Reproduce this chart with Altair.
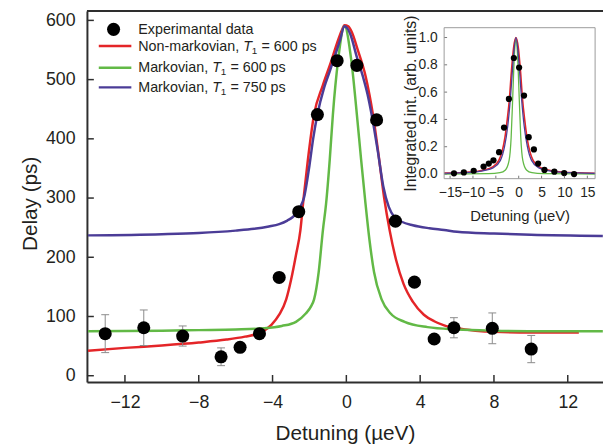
import altair as alt
import pandas as pd

# ---------------- main panel data ----------------
exp_x = [-13.07, -10.98, -8.87, -6.79, -5.76, -4.71, -3.64, -2.58, -1.57, -0.50,
         0.57, 1.64, 2.66, 3.69, 4.76, 5.83, 7.91, 10.02]
exp_y = [71, 81, 67, 32, 48, 71, 166, 277, 441, 532, 524, 432, 261, 158, 62, 81, 80, 45]
exp_err = [32, 30, 17, 15, 0, 0, 0, 0, 0, 0, 0, 0, 0, 0, 0, 17, 26, 23]

red_x = [-14, -12, -10, -8, -6.5, -5.5, -4.71, -4.06, -3.64, -3.26, -2.99, -2.73, -2.49,
         -2.33, -2.09, -1.75, -1.28, -0.8, -0.5, -0.25, -0.1, 0.1, 0.3, 0.6, 1.05, 1.44,
         1.75, 2.05, 2.35, 2.7, 3.1, 3.6, 4.2, 4.76, 5.3, 6, 7, 8, 10, 12.6]
red_y = [42, 47, 51, 56, 61, 66, 72, 86, 103, 129, 163, 204, 246,
         296, 363, 441, 490, 533, 562, 583, 592, 590, 580, 552, 505, 441,
         372, 300, 245, 195, 155, 125, 103, 92, 85, 80, 76, 74, 73, 73]

green_x = [-14, -10, -8, -6, -4.5, -3.5, -2.73, -2.2, -1.9, -1.75, -1.5, -1.27, -1.1, -0.9,
           -0.73, -0.45, -0.1, 0.27, 0.57, 0.8, 1.02, 1.25, 1.5, 1.91, 2.4, 3.16, 4.4,
           6, 8, 11, 13.9]
green_y = [75, 76, 77, 78, 80, 84, 91, 105, 118, 129, 175, 246, 290, 365,
           441, 532, 590, 532, 441, 365, 296, 230, 175, 129, 105, 91, 82,
           78, 76, 75, 75]

purple_x = [-14, -10, -8, -6, -5, -4.2, -3.64, -3.2, -2.9, -2.7, -2.5, -2.3, -2.0, -1.8,
            -1.57, -1.2, -0.9, -0.6, -0.35, -0.1, 0.2, 0.57, 0.9, 1.15, 1.37, 1.7, 2.0,
            2.3, 2.6, 3.0, 3.6, 4.5, 5.3, 6, 8, 10, 13.9]
purple_y = [237, 239, 241, 245, 248, 252, 256, 262, 268, 275, 285, 300, 355, 400,
            441, 487, 514, 542, 566, 590, 578, 538, 505, 475, 441, 380, 320,
            285, 268, 260, 254, 249, 246, 243, 240, 238, 236]

x_ticks = [-12, -8, -4, 0, 4, 8, 12]
y_ticks = [0, 100, 200, 300, 400, 500, 600]

# ---------------- inset data ----------------
in_x = [-14.15, -11.99, -9.84, -7.68, -6.54, -5.52, -4.29, -3.21, -2.14, -1.06,
        0.09, 1.16, 2.18, 3.32, 4.25, 5.63, 7.79, 9.94, 12.1]
in_y = [0.005, 0.012, 0.024, 0.055, 0.077, 0.10, 0.16, 0.34, 0.55, 0.85,
        0.78, 0.575, 0.27, 0.18, 0.077, 0.03, 0.017, 0.007, 0.0]

in_red_x = [-16.3, -10.6, -7.6, -5.8, -4.35, -3.6, -3.0, -2.5, -2.03, -1.6, -1.1, -0.6,
            -0.1, 0.4, 0.83, 1.3, 1.8, 2.4, 3.15, 4.6, 6.4, 9.4, 16.7]
in_red_y = [0.007, 0.015, 0.03, 0.05, 0.1, 0.17, 0.27, 0.4, 0.55, 0.75, 0.93, 1.0,
            0.93, 0.75, 0.55, 0.4, 0.27, 0.17, 0.1, 0.05, 0.03, 0.015, 0.006]

in_purple_x = [-16.3, -10.6, -7.6, -5.6, -4.0, -3.1, -2.4, -1.83, -1.5, -1.1, -0.6,
               -0.1, 0.3, 0.63, 1.2, 1.9, 2.8, 4.4, 6.4, 9.4, 16.7]
in_purple_y = [0.005, 0.012, 0.025, 0.045, 0.1, 0.2, 0.35, 0.55, 0.7, 0.88, 1.0,
               0.88, 0.7, 0.55, 0.35, 0.2, 0.1, 0.045, 0.025, 0.012, 0.005]

in_green_x = [-16.3, -6.6, -4.1, -2.9, -2.1, -1.65, -1.32, -1.1, -0.9, -0.6, -0.3,
              -0.1, 0.12, 0.45, 0.9, 1.7, 2.9, 5.4, 16.7]
in_green_y = [0.0, 0.003, 0.01, 0.03, 0.1, 0.27, 0.55, 0.75, 0.9, 0.98, 0.9,
              0.75, 0.55, 0.27, 0.1, 0.03, 0.01, 0.003, 0.0]

in_x_ticks = [-15, -10, -5, 0, 5, 10, 15]
in_y_ticks = [0.0, 0.2, 0.4, 0.6, 0.8, 1.0]

# ---------------- styling ----------------
W, H = 523, 376
FONT = "Liberation Sans"
TXT = "#231f20"
AX = "#2e2e2e"
RED = "#e42528"
GREEN = "#62b946"
PURPLE = "#4b3c97"
ERR = "#8a8a8a"

xs = alt.Scale(domain=[-14.06, 13.91], nice=False, zero=False)
ys = alt.Scale(domain=[-10.5, 616], nice=False, zero=False)

x_axis = alt.Axis(orient="bottom", values=x_ticks, title="Detuning (µeV)", grid=False,
                  ticks=False, tickSize=0, labelPadding=12, labelFontSize=18, labelFont=FONT,
                  labelColor=TXT, labelFlush=False, labelOverlap=False, domainColor=AX,
                  domainWidth=2, titleFont=FONT, titleFontSize=21, titleFontWeight="normal",
                  titleColor=TXT, titleY=58, titleBaseline="alphabetic")
y_axis = alt.Axis(orient="left", values=y_ticks, title="Delay (ps)", grid=False,
                  ticks=False, tickSize=0, labelPadding=12, labelFontSize=18, labelFont=FONT,
                  labelColor=TXT, labelFlush=False, labelOverlap=False, domainColor=AX,
                  domainWidth=2, titleFont=FONT, titleFontSize=21, titleFontWeight="normal",
                  titleColor=TXT, titleX=-57, titleY=195, titleAngle=270,
                  titleBaseline="middle", titleAlign="center")

xi = alt.Scale(domain=[-16.3, 16.7], range=[362, 515], nice=False, zero=False)
yi = alt.Scale(domain=[-0.034, 1.072], range=[170, 17], nice=False, zero=False)

xi_axis = alt.Axis(orient="bottom", offset=-206, values=in_x_ticks, domain=False,
                   ticks=False, tickSize=0, grid=False, labelPadding=7, labelFontSize=14,
                   labelFont=FONT, labelColor=TXT, labelFlush=False, labelOverlap=False,
                   title="Detuning (µeV)", titleFont=FONT, titleFontSize=15,
                   titleFontWeight="normal", titleColor=TXT, titleY=42,
                   titleBaseline="alphabetic")
yi_axis = alt.Axis(orient="left", offset=-362, values=in_y_ticks, format=".1f",
                   domain=False, ticks=False, tickSize=0, grid=False, labelPadding=7,
                   labelFontSize=14, labelFont=FONT, labelColor=TXT, labelFlush=False,
                   labelOverlap=False, title="Integrated int. (arb. units)", titleFont=FONT,
                   titleFontSize=16, titleFontWeight="normal", titleColor=TXT, titleX=-34,
                   titleY=93.5, titleAngle=270, titleBaseline="middle", titleAlign="center")


def X(field="x"):
    return alt.X(f"{field}:Q", scale=xs, axis=x_axis)


def Y(field="y"):
    return alt.Y(f"{field}:Q", scale=ys, axis=y_axis)


def XI(field="x"):
    return alt.X(f"{field}:Q", scale=xi, axis=xi_axis)


def YI(field="y"):
    return alt.Y(f"{field}:Q", scale=yi, axis=yi_axis)


def curve(xv, yv, color, width, inset=False):
    df = pd.DataFrame({"x": xv, "y": yv})
    enc = dict(x=XI(), y=YI()) if inset else dict(x=X(), y=Y())
    return alt.Chart(df).mark_line(color=color, strokeWidth=width,
                                   interpolate="monotone").encode(**enc)


# ---------------- main layers ----------------
exp_df = pd.DataFrame({"x": exp_x, "y": exp_y, "e": exp_err})
err_df = exp_df[exp_df["e"] > 0].copy()
err_df["lo"] = err_df["y"] - err_df["e"]
err_df["hi"] = err_df["y"] + err_df["e"]

err_bars = alt.Chart(err_df).mark_rule(color=ERR, strokeWidth=1).encode(
    x=X(), y=Y("lo"), y2="hi:Q")
cap_lo = alt.Chart(err_df).mark_rule(color=ERR, strokeWidth=1, xOffset=-4, x2Offset=4).encode(
    x=X(), x2="x:Q", y=Y("lo"))
cap_hi = alt.Chart(err_df).mark_rule(color=ERR, strokeWidth=1, xOffset=-4, x2Offset=4).encode(
    x=X(), x2="x:Q", y=Y("hi"))
points = alt.Chart(exp_df).mark_circle(size=175, color="black", opacity=1).encode(
    x=X(), y=Y())

xt = alt.Chart(pd.DataFrame({"x": x_ticks})).mark_rule(color=AX, strokeWidth=1.5).encode(
    x=X(), y=alt.value(H), y2=alt.value(H - 7))
yt = alt.Chart(pd.DataFrame({"y": y_ticks})).mark_rule(color=AX, strokeWidth=1.5).encode(
    y=Y(), x=alt.value(0), x2=alt.value(7))

one = pd.DataFrame({"k": [0]})
top_line = alt.Chart(one).mark_rule(color=AX, strokeWidth=2).encode(
    x=alt.value(0), x2=alt.value(W), y=alt.value(0))

# legend (drawn manually so T1 can be italic with subscript)
LF = 14.5
leg = [alt.Chart(one).mark_circle(size=175, color="black", opacity=1).encode(
    x=alt.value(27), y=alt.value(18.7)),
    alt.Chart(one).mark_text(text="Experimantal data", align="left", baseline="middle",
                             font=FONT, fontSize=LF, color=TXT).encode(
        x=alt.value(52), y=alt.value(19))]
rows = [("Non-markovian, ", "= 600 ps", RED, 36.5, 35.5, 158.4),
        ("Markovian, ", "= 600 ps", GREEN, 58, 57.5, 126.9),
        ("Markovian, ", "= 750 ps", PURPLE, 78, 77.5, 126.9)]
for pre, post, col, ty, ly, tx in rows:
    leg.append(alt.Chart(one).mark_rule(color=col, strokeWidth=2.5).encode(
        x=alt.value(12), x2=alt.value(45), y=alt.value(ly)))
    leg.append(alt.Chart(one).mark_text(text=pre, align="left", baseline="middle", font=FONT,
                                        fontSize=LF, color=TXT).encode(
        x=alt.value(52), y=alt.value(ty)))
    leg.append(alt.Chart(one).mark_text(text="T", align="left", baseline="middle", font=FONT,
                                        fontSize=LF, fontStyle="italic", color=TXT).encode(
        x=alt.value(tx), y=alt.value(ty)))
    leg.append(alt.Chart(one).mark_text(text="1", align="left", baseline="middle", font=FONT,
                                        fontSize=10, color=TXT).encode(
        x=alt.value(tx + 8.6), y=alt.value(ty + 4.3)))
    leg.append(alt.Chart(one).mark_text(text=post, align="left", baseline="middle", font=FONT,
                                        fontSize=LF, color=TXT).encode(
        x=alt.value(tx + 18.5), y=alt.value(ty)))

main = alt.layer(
    curve(red_x, red_y, RED, 2.5),
    curve(green_x, green_y, GREEN, 2.5),
    curve(purple_x, purple_y, PURPLE, 2.5),
    err_bars, cap_lo, cap_hi, points, xt, yt, top_line, *leg)

# ---------------- inset layers ----------------
in_pts = alt.Chart(pd.DataFrame({"x": in_x, "y": in_y})).mark_circle(
    size=40, color="black", opacity=1).encode(x=XI(), y=YI())
ixt = alt.Chart(pd.DataFrame({"x": in_x_ticks})).mark_rule(color="#777777", strokeWidth=1).encode(
    x=XI(), y=alt.value(170), y2=alt.value(167))
iyt = alt.Chart(pd.DataFrame({"y": in_y_ticks})).mark_rule(color="#777777", strokeWidth=1).encode(
    y=YI(), x=alt.value(362), x2=alt.value(365))
frame = alt.Chart(one).mark_rect(fillOpacity=0, stroke="#9a9a9a", strokeWidth=1).encode(
    x=alt.value(362), x2=alt.value(515), y=alt.value(17), y2=alt.value(170))

inset = alt.layer(
    curve(in_red_x, in_red_y, RED, 1.6, inset=True),
    curve(in_green_x, in_green_y, GREEN, 1.3, inset=True),
    curve(in_purple_x, in_purple_y, PURPLE, 1.3, inset=True),
    in_pts, ixt, iyt, frame)

chart = alt.layer(main, inset).resolve_scale(x="independent", y="independent").properties(
    width=W, height=H,
    padding={"left": 80, "top": 0, "right": 0, "bottom": 64},
    autosize=alt.AutoSizeParams(type="none"),
    background="white",
).configure_view(stroke=None)

chart.save("out.html", embed_options={"renderer": "svg", "actions": False})
